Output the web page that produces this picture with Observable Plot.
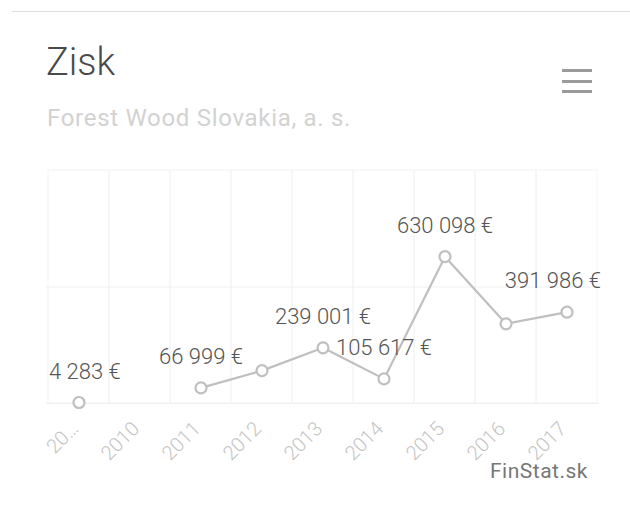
<!DOCTYPE html>
<html>
<head>
<meta charset="utf-8">
<script src="https://cdn.jsdelivr.net/npm/d3@7"></script>
<script src="https://cdn.jsdelivr.net/npm/@observablehq/plot@0.6"></script>
<style>
  html, body { margin: 0; padding: 0; background: #fff; }
  #wrap { position: relative; width: 630px; height: 511px; overflow: hidden; font-family: Roboto, "Noto Sans", sans-serif; }
  #pagehead { position: absolute; left: 12px; top: -24px; font-size: 26px; color: #333; font-family: Roboto, sans-serif; line-height: 1; }
  #rule { position: absolute; left: 12px; right: 0; top: 11px; height: 0; border-top: 1px solid #dedede; }
  #title { position: absolute; left: 46px; top: 43px; font-size: 38px; font-weight: 300; color: #4a4a4a; line-height: 1; }
  #subtitle { position: absolute; left: 47px; top: 106px; font-size: 24px; letter-spacing: 0.7px; color: #d2d2d2; line-height: 1; }
  #menu { position: absolute; left: 562px; top: 69px; width: 30px; }
  #menu div { height: 3px; background: #9a9a9a; margin-bottom: 7.5px; }
  #chart { position: absolute; left: 0; top: 150px; }
  #credit { position: absolute; left: 490px; top: 461px; font-size: 21px; letter-spacing: 0.5px; color: #777; line-height: 1; }
</style>
</head>
<body>
<div id="wrap">
  <div id="pagehead">Graf: Zisk</div>
  <div id="rule"></div>
  <div id="title">Zisk</div>
  <div id="subtitle">Forest Wood Slovakia, a. s.</div>
  <div id="menu"><div></div><div></div><div></div></div>
  <div id="chart"></div>
  <div id="credit">FinStat.sk</div>
</div>
<script>
// Data
const years = ["2009", "2010", "2011", "2012", "2013", "2014", "2015", "2016", "2017"];
const tickLabels = ["20…", "2010", "2011", "2012", "2013", "2014", "2015", "2016", "2017"];
const values = [4283, null, 66999, 141000, 239001, 105617, 630098, 342000, 391986];
const valueLabels = ["4 283 €", null, "66 999 €", null, "239 001 €", "105 617 €", "630 098 €", null, "391 986 €"];
const gridValues = [0, 500000];

const data = years.map((y, i) => ({year: y, value: values[i], label: valueLabels[i], idx: i}));
const pts = data.filter(d => d.value != null);
const lastIdx = years.length - 1;
const labMid = data.filter(d => d.label && d.idx !== 0 && d.idx !== lastIdx);
const labFirst = data.filter(d => d.label && d.idx === 0);
const labLast = data.filter(d => d.label && d.idx === lastIdx);

const lineColor = "#bfbfbf";
const labelStyle = {fontSize: 22, fontWeight: 300, fill: "#555", lineAnchor: "middle", dy: -31, fontFamily: "Roboto, sans-serif"};

const chart = Plot.plot({
  width: 630,
  height: 330,
  marginTop: 20,
  marginBottom: 77,
  marginLeft: 46,
  marginRight: 31,
  style: {fontFamily: "Roboto, sans-serif", background: "transparent", overflow: "visible"},
  x: {type: "band", domain: years, padding: 0, label: null},
  y: {domain: [0, 1000000], axis: null},
  marks: [
    Plot.cell(years, {x: d => d, fill: "none", stroke: "#f4f4f4", strokeWidth: 1}),
    Plot.ruleY(gridValues, {stroke: "#efefef", strokeWidth: 1}),
    Plot.axisX({tickSize: 0, tickRotate: -45, tickPadding: 22, dx: -4, fontSize: 20, fontWeight: 300, color: "#c4c4c4",
      tickFormat: d => tickLabels[years.indexOf(d)], label: null}),
    Plot.lineY(data, {x: "year", y: "value", stroke: lineColor, strokeWidth: 2.2}),
    Plot.dot(pts, {x: "year", y: "value", r: 5.5, stroke: lineColor, strokeWidth: 2.2, fill: "#fff"}),
    Plot.text(labMid, {x: "year", y: "value", text: "label", textAnchor: "middle", ...labelStyle}),
    Plot.text(labFirst, {x: "year", y: "value", text: "label", textAnchor: "start", dx: -30, ...labelStyle}),
    Plot.text(labLast, {x: "year", y: "value", text: "label", textAnchor: "end", dx: 34, ...labelStyle})
  ]
});
document.getElementById("chart").appendChild(chart);
</script>
</body>
</html>
